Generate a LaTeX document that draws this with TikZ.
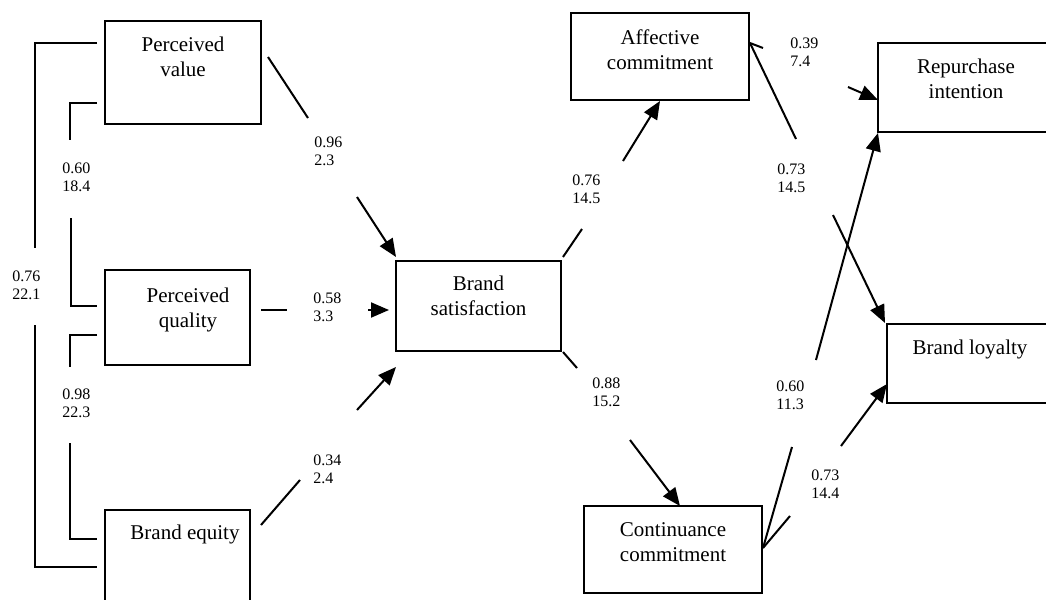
\documentclass[tikz,border=0pt]{standalone}
\usepackage{fontspec}
\setmainfont{Liberation Serif}
\usetikzlibrary{arrows.meta, positioning}

\begin{document}
\begin{tikzpicture}[
  x=0.5pt, y=-0.5pt,
  >={Triangle[length=9pt, width=7.5pt]},
  box/.style={draw, line width=1pt, inner sep=0pt},
  boxtext/.style={font=\fontsize{10.5}{12.5}\selectfont, align=center, anchor=north, inner sep=0pt},
  est/.style={font=\fontsize{8}{9}\selectfont, align=left, anchor=north west, inner sep=0pt},
  link/.style={line width=1pt}
]
\useasboundingbox (0,0) rectangle (1046,600);
\clip (0,0) rectangle (1046,600);
% constructs
\node[box, minimum width=78pt, minimum height=51.5pt] (pv) at (183,72.5) {};
\node[box, minimum width=72.5pt, minimum height=47.5pt] (pq) at (177.5,317.5) {};
\node[box, minimum width=72.5pt, minimum height=52.5pt] (be) at (177.5,562.5) {};
\node[box, minimum width=82.5pt, minimum height=45pt] (bs) at (478.5,306) {};
\node[box, minimum width=89pt, minimum height=43.5pt] (ac) at (660,56.5) {};
\node[box, minimum width=91pt, minimum height=44.5pt] (ri) at (969,87.5) {};
\node[box, minimum width=86.5pt, minimum height=39.5pt] (bl) at (973.5,363.5) {};
\node[box, minimum width=89pt, minimum height=43.5pt] (cc) at (673,549.5) {};
\node[boxtext] (pv-t) at (183,37) {Perceived\\value};
\node[boxtext] (pq-t) at (188,288) {Perceived\\quality};
\node[boxtext] (be-t) at (185,525) {Brand equity};
\node[boxtext] (bs-t) at (478.5,276) {Brand\\satisfaction};
\node[boxtext] (ac-t) at (660,29) {Affective\\commitment};
\node[boxtext] (ri-t) at (966,59) {Repurchase\\intention};
\node[boxtext] (bl-t) at (970,340) {Brand loyalty};
\node[boxtext] (cc-t) at (673,522) {Continuance\\commitment};
% correlations on the left
\foreach \n/\x/\y in {ob1/97/43, ob3/35/248, ob4/35/325, ob6/97/567,
                      vq1/97/103, vq3/70/140, vq4/71/218, vq6/97/306,
                      qe1/97/335, qe3/70/367, qe4/70/443, qe6/97/539}
  \coordinate (\n) at (\x,\y);
\draw[link] (ob1) -| (ob3);
\draw[link] (ob4) |- (ob6);
\draw[link] (vq1) -| (vq3);
\draw[link] (vq4) |- (vq6);
\draw[link] (qe1) -| (qe3);
\draw[link] (qe4) |- (qe6);
% paths
\foreach \n/\x/\y in {vs1/268/57, vs2/308/118, vs3/357/197, vs4/396/257,
                      qs1/261/310, qs2/287/310, qs3/368/310, qs4/389/310,
                      es1/261/525, es2/300/480, es3/357/410, es4/396/367,
                      sa1/563/257, sa2/582/229, sa3/623/161, sa4/660/101,
                      sc1/563/352, sc2/577/368, sc3/630/440, sc4/680/506,
                      ar1/750/43, ar2/763/48, ar3/848/87, ar4/878/100,
                      al2/796/139, al3/833/215, al4/885/323,
                      cr1/763/548, cr2/792/447, cr3/816/360, cr4/878/133,
                      cl2/790/516, cl3/841/446, cl4/887/384}
  \coordinate (\n) at (\x,\y);
\foreach \a/\b/\c/\d in {vs1/vs2/vs3/vs4, qs1/qs2/qs3/qs4, es1/es2/es3/es4,
                         sa1/sa2/sa3/sa4, sc1/sc2/sc3/sc4, ar1/ar2/ar3/ar4,
                         ar1/al2/al3/al4, cr1/cr2/cr3/cr4, cr1/cl2/cl3/cl4}{
  \draw[link] (\a) -- (\b);
  \draw[link, ->] (\c) -- (\d);
}
% estimates
\foreach \n/\x/\y/\a/\b in {e1/12/270.5/0.76/22.1, e2/62/162.5/0.60/18.4,
                            e3/62/388.5/0.98/22.3, e4/314/136.5/0.96/2.3,
                            e5/313/292.5/0.58/3.3, e6/313/454.5/0.34/2.4,
                            e7/572/174.5/0.76/14.5, e8/592/377.5/0.88/15.2,
                            e9/790/37.5/0.39/7.4, e10/777/163.5/0.73/14.5,
                            e11/776/380.5/0.60/11.3, e12/811/469.5/0.73/14.4}
  \node[est] (\n) at (\x,\y) {\a\\\b};
\end{tikzpicture}
\end{document}
